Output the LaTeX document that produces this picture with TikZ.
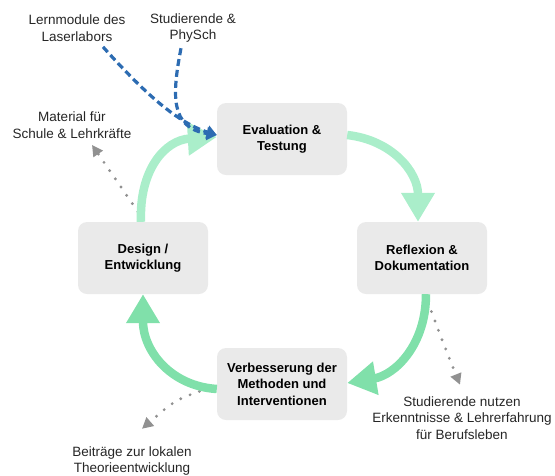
\documentclass[tikz,border=0pt]{standalone}
\usepackage{fontspec}
\setmainfont{Liberation Sans}
\usetikzlibrary{arrows.meta, positioning}
\definecolor{boxGray}{RGB}{234, 234, 234}
\definecolor{cycleLight}{RGB}{170, 238, 202}
\definecolor{cycleGreen}{RGB}{128, 224, 170}
\definecolor{inBlue}{RGB}{45, 108, 178}
\definecolor{outGray}{RGB}{145, 145, 145}

\begin{document}
\begin{tikzpicture}[x=1pt, y=-1pt,
      box/.style={rectangle, fill=boxGray, rounded corners=9pt, minimum width=130pt, minimum height=72pt, align=center, font=\fontsize{13}{16.5}\selectfont\bfseries},
      note/.style={align=center, text=black!85, font=\fontsize{13.5}{16.8}\selectfont},
      cyclearrow/.style={line width=8.5pt, -{Triangle[width=32pt, length=29pt]}},
      inarrow/.style={inBlue, line width=3.2pt, dash pattern=on 7pt off 4pt, -{Triangle[width=13pt, length=10pt]}},
      outarrow/.style={outGray, line width=3.2pt, line cap=round, dash pattern=on 0pt off 10pt, -{Triangle[width=11pt, length=11pt]}}]
      \useasboundingbox (0,0) rectangle (555,475);

      % cycle steps
      \node[box] (eval) at (282,139) {Evaluation \&\\Testung};
      \node[box] (refl) at (422,258) {Reflexion \&\\Dokumentation};
      \node[box] (design) at (143,258) {Design /\\Entwicklung};
      \node[box] (verb) at (282,384) {Verbesserung der\\Methoden und\\Interventionen};

      % inputs and outputs
      \node[note] (lern) at (77,28) {Lernmodule des\\Laserlabors};
      \node[note] (stud) at (193,28) {Studierende \&\\PhySch};
      \node[note] (mat) at (72,125) {Material für\\Schule \& Lehrkräfte};
      \node[note] (beit) at (132,461) {Beiträge zur lokalen\\Theorieentwicklung};
      \node[note] (nutz) at (462,418) {Studierende nutzen\\Erkenntnisse \& Lehrerfahrung\\für Berufsleben};

      \draw[outarrow] ([xshift=-5pt, yshift=10pt]design.north) -- ([xshift=20pt, yshift=-3pt]mat.south);
      \draw[outarrow] ([xshift=6pt, yshift=-8pt]refl.south) .. controls (442,340) .. ([xshift=-2pt, yshift=8pt]nutz.north);
      \draw[outarrow] ([xshift=-8pt, yshift=-4pt]verb.west) .. controls (175,400) .. ([xshift=10pt, yshift=14pt]beit.north);

      \draw[cyclearrow, cycleLight] ([yshift=4pt]eval.east) .. controls (392,140) and (418,172) .. ([xshift=-4pt]refl.north);
      \draw[cyclearrow, cycleGreen] ([xshift=4pt]refl.south) .. controls (426,345) and (395,375) .. ([yshift=1pt]verb.east);
      \draw[cyclearrow, cycleGreen] ([yshift=-5pt]verb.west) .. controls (170,386) and (143,350) .. (design.south);
      \draw[cyclearrow, cycleLight] ([xshift=-2pt]design.north) .. controls (139,170) and (165,140) .. ([yshift=2pt]eval.west);

      \draw[inarrow] ([xshift=26pt, yshift=-2pt]lern.south) .. controls (140,88) and (175,122) .. ([yshift=4pt]eval.west);
      \draw[inarrow] ([xshift=-12pt, yshift=-2pt]stud.south) .. controls (172,95) and (170,128) .. ([yshift=4pt]eval.west);
  \end{tikzpicture}
\end{document}
